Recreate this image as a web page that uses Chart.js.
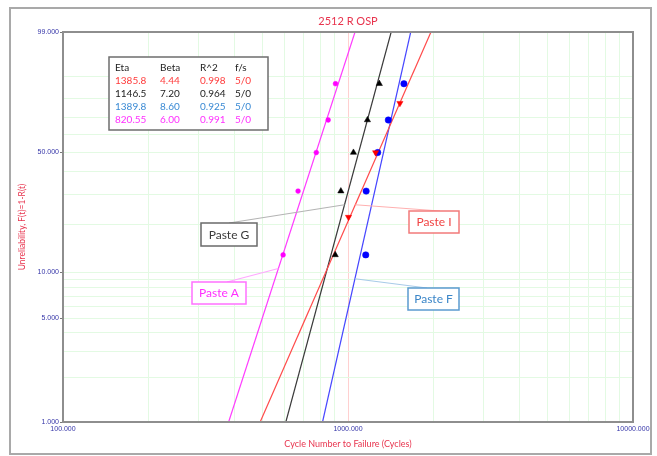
<!DOCTYPE html>
<html>
<head>
<meta charset="utf-8">
<title>2512 R OSP</title>
<script src="https://cdn.jsdelivr.net/npm/chart.js@4/dist/chart.umd.min.js"></script>
<style>
  html, body { margin: 0; padding: 0; background: #ffffff; }
  canvas { display: block; }
</style>
</head>
<body>
<canvas id="weibull" width="657" height="456"></canvas>
<script>
// Weibull fit parameters, one entry per paste
const pasteNames = ['Paste I', 'Paste G', 'Paste F', 'Paste A'];
const etas = [1385.8, 1146.5, 1389.8, 820.55];
const betas = [4.44, 7.20, 8.60, 6.00];
const rSquared = [0.998, 0.964, 0.925, 0.991];
const failSusp = ['5/0', '5/0', '5/0', '5/0'];

// Failure data (cycles) and plotting positions (% unreliability)
const pasteICycles = [1004, 1250, 1521];
const pasteIRanks = [22.22, 50.0, 77.78];
const pasteGCycles = [902, 944, 1045, 1170, 1288];
const pasteFCycles = [1154, 1158, 1271, 1385, 1571];
const pasteACycles = [592, 668, 774, 852, 904];
const medianRanks = [12.96, 31.48, 50.0, 68.52, 87.04];

// Axis ticks
const xGridCycles = [100, 200, 300, 400, 500, 600, 700, 800, 900,
                     1000, 2000, 3000, 4000, 5000, 6000, 7000, 8000, 9000, 10000];
const xLabelCycles = [100, 1000, 10000];
const yGridPercents = [1, 2, 3, 4, 5, 6, 7, 8, 9, 10, 20, 30, 40, 50, 60, 70, 80, 90, 99];
const yLabelPercents = [1, 5, 10, 50, 99];

// Weibull probability-paper transform: ln(-ln(1-F))
const wb = p => Math.log(-Math.log(1 - p / 100));
// Time at which the fitted Weibull reaches unreliability p (%)
const fitTime = (i, p) => etas[i] * Math.exp(wb(p) / betas[i]);

const lineColors  = ['#ff4a4a', '#3a3a3a', '#4646ff', '#ff3cff'];
const pointColors = ['#ff0000', '#000000', '#0000ff', '#ff00ff'];
const textColors  = ['#ff3b3b', '#222222', '#3a8ad4', '#ff30ff'];
const RED_TEXT = '#e8344e';

const pointSets = [
  { cycles: pasteICycles, ranks: pasteIRanks, style: 'triangle', rotation: 180, radius: 3.6 },
  { cycles: pasteGCycles, ranks: medianRanks, style: 'triangle', rotation: 0, radius: 3.6 },
  { cycles: pasteFCycles, ranks: medianRanks, style: 'circle', rotation: 0, radius: 3.2 },
  { cycles: pasteACycles, ranks: medianRanks, style: 'circle', rotation: 0, radius: 2.4 }
];

const datasets = [];
pointSets.forEach((s, i) => {
  datasets.push({
    label: pasteNames[i] + ' data',
    data: s.cycles.map((c, k) => ({ x: c, y: wb(s.ranks[k]) })),
    showLine: false,
    pointStyle: s.style,
    rotation: s.rotation,
    pointRadius: s.radius,
    pointBackgroundColor: pointColors[i],
    pointBorderColor: pointColors[i],
    pointBorderWidth: 0.5,
    order: 0
  });
});
pasteNames.forEach((name, i) => {
  datasets.push({
    label: name + ' fit',
    data: [1, 99].map(p => ({ x: fitTime(i, p), y: wb(p) })),
    showLine: true,
    borderColor: lineColors[i],
    borderWidth: 1.2,
    pointRadius: 0,
    order: 1
  });
});

// Callout labels (box geometry in canvas px, pct = point on the fitted line)
const callouts = [
  { series: 1, pct: 26.3, box: [201, 223, 56, 23], anchor: [229, 223], border: '#6a6a6a', text: '#3a3a3a', leader: '#b4b4b4' },
  { series: 3, pct: 10.6, box: [192, 282, 54, 22], anchor: [227, 282], border: '#ff70ff', text: '#ff30ff', leader: '#ffa8ff' },
  { series: 0, pct: 26.3, box: [409, 211, 50, 22], anchor: [440, 211], border: '#f27a7a', text: '#f04444', leader: '#ffb0b0' },
  { series: 2, pct: 9.1,  box: [408, 288, 51, 22], anchor: [427, 288], border: '#5b9bd0', text: '#3b86c8', leader: '#a8cbe8' }
];

const decorPlugin = {
  id: 'decor',
  afterDraw(chart) {
    const { ctx, chartArea: ca, scales } = chart;
    ctx.save();

    // outer frame
    ctx.strokeStyle = '#a9a9a9';
    ctx.lineWidth = 2;
    ctx.strokeRect(10, 8, 641, 446);

    // plot border
    ctx.strokeStyle = '#8e8e8e';
    ctx.lineWidth = 2;
    ctx.strokeRect(ca.left, ca.top, ca.right - ca.left, ca.bottom - ca.top);

    // titles
    ctx.fillStyle = RED_TEXT;
    ctx.textAlign = 'center';
    ctx.textBaseline = 'middle';
    ctx.font = '11px Lato';
    ctx.fillText('2512 R OSP', (ca.left + ca.right) / 2, 21);
    ctx.font = '9px Lato';
    ctx.fillText('Cycle Number to Failure (Cycles)', (ca.left + ca.right) / 2, 444);
    ctx.save();
    ctx.translate(22, (ca.top + ca.bottom) / 2);
    ctx.rotate(-Math.PI / 2);
    ctx.font = '8.5px Lato';
    ctx.fillText('Unreliability, F(t)=1-R(t)', 0, 0);
    ctx.restore();

    // parameter table
    const tx = ca.left + 46, ty = ca.top + 25;
    ctx.fillStyle = '#ffffff';
    ctx.fillRect(tx, ty, 159, 73);
    ctx.strokeStyle = '#6e6e6e';
    ctx.lineWidth = 1.5;
    ctx.strokeRect(tx, ty, 159, 73);
    const cols = [tx + 6, tx + 51, tx + 91, tx + 126];
    ctx.textAlign = 'left';
    ctx.textBaseline = 'middle';
    ctx.font = '10px Lato';
    ctx.fillStyle = '#222222';
    ['Eta', 'Beta', 'R^2', 'f/s'].forEach((h, c) => ctx.fillText(h, cols[c], ty + 10.5));
    pasteNames.forEach((n, i) => {
      const y = ty + 23.5 + i * 13;
      ctx.fillStyle = textColors[i];
      ctx.fillText(String(etas[i]), cols[0], y);
      ctx.fillText(betas[i].toFixed(2), cols[1], y);
      ctx.fillText(rSquared[i].toFixed(3), cols[2], y);
      ctx.fillText(failSusp[i], cols[3], y);
    });

    // callouts with leader lines to the fitted lines
    callouts.forEach(c => {
      const px = scales.x.getPixelForValue(fitTime(c.series, c.pct));
      const py = scales.y.getPixelForValue(wb(c.pct));
      ctx.strokeStyle = c.leader;
      ctx.lineWidth = 1.2;
      ctx.beginPath();
      ctx.moveTo(c.anchor[0], c.anchor[1]);
      ctx.lineTo(px, py);
      ctx.stroke();
      const [bx, by, bw, bh] = c.box;
      ctx.fillStyle = '#ffffff';
      ctx.fillRect(bx, by, bw, bh);
      ctx.strokeStyle = c.border;
      ctx.lineWidth = 1.5;
      ctx.strokeRect(bx, by, bw, bh);
      ctx.fillStyle = c.text;
      ctx.font = '12px Lato';
      ctx.textAlign = 'center';
      ctx.textBaseline = 'middle';
      ctx.fillText(pasteNames[c.series], bx + bw / 2, by + bh / 2 + 0.5);
    });

    ctx.restore();
  }
};

new Chart(document.getElementById('weibull'), {
  type: 'scatter',
  data: { datasets },
  plugins: [decorPlugin],
  options: {
    responsive: false,
    animation: false,
    devicePixelRatio: 1,
    layout: { padding: { left: 0, top: 32, right: 24, bottom: 0 } },
    plugins: { legend: { display: false }, tooltip: { enabled: false }, title: { display: false } },
    scales: {
      x: {
        type: 'logarithmic',
        min: 100,
        max: 10000,
        afterBuildTicks: s => { s.ticks = xGridCycles.map(v => ({ value: v })); },
        afterFit: s => { s.height = 34; },
        border: { display: false },
        grid: {
          color: c => (c.tick && c.tick.value === 1000) ? '#ffd0d0' : '#e3fae3',
          lineWidth: 1,
          drawTicks: false
        },
        ticks: {
          autoSkip: false,
          maxRotation: 0,
          padding: 3,
          color: '#3535a8',
          font: { family: 'Liberation Sans', size: 7 },
          callback: v => xLabelCycles.includes(v) ? v.toFixed(3) : ''
        }
      },
      y: {
        type: 'linear',
        min: wb(1),
        max: wb(99),
        afterBuildTicks: s => { s.ticks = yGridPercents.map(p => ({ value: wb(p) })); },
        afterFit: s => { s.width = 63; },
        border: { display: false },
        grid: {
          color: '#e3fae3',
          lineWidth: 1,
          drawTicks: true,
          tickLength: 3,
          tickColor: c => yLabelPercents.includes(yGridPercents[c.index]) ? '#777777' : 'rgba(0,0,0,0)'
        },
        ticks: {
          autoSkip: false,
          padding: 1,
          color: '#3535a8',
          font: { family: 'Liberation Sans', size: 7 },
          callback: (v, i) => yLabelPercents.includes(yGridPercents[i]) ? yGridPercents[i].toFixed(3) : ''
        }
      }
    }
  }
});
</script>
</body>
</html>
